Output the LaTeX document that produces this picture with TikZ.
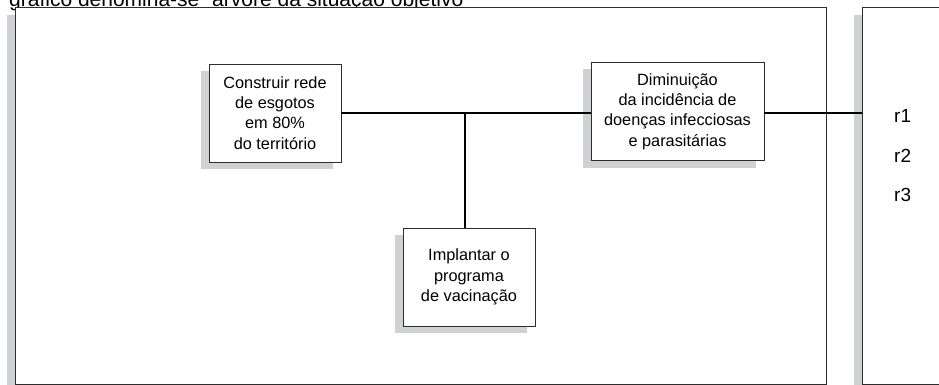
\documentclass[tikz,border=0pt]{standalone}
\usepackage{fontspec}
\setmainfont{Liberation Sans}
\usetikzlibrary{positioning,shadows,calc}
\definecolor{sombra}{RGB}{208,209,211}
\definecolor{borda}{RGB}{45,45,45}

\begin{document}
\begin{tikzpicture}[x=1pt,y=-1pt,
    caixa/.style={draw=borda, line width=0.8pt, fill=white, align=center,
        minimum width=132pt, minimum height=98pt, inner sep=2pt,
        font=\fontsize{16.3}{20.3}\selectfont,
        drop shadow={shadow xshift=-8pt, shadow yshift=-7pt, fill=sombra, opacity=1}},
    quadro/.style={draw=borda, line width=0.8pt, fill=white, anchor=north west,
        inner sep=0pt,
        drop shadow={shadow xshift=-8pt, shadow yshift=-8pt, fill=sombra, opacity=1}},
    ligacao/.style={line width=1.6pt, black}]
\useasboundingbox (0,0) rectangle (939,385);
\clip (0,0) rectangle (939,385);

\node[anchor=base west, inner sep=0pt, font=\fontsize{21}{24}\selectfont] (titulo) at (9,6.5)
    {gráfico denomina-se “árvore da situação objetivo”};

\node[quadro, minimum width=811pt, minimum height=377pt] (arvore) at (15,7) {};
\node[quadro, minimum width=120pt, minimum height=377pt] (painel) at (862,7) {};

\node[caixa] (rede) at (275,113) {Construir rede\\de esgotos\\em 80\%\\do território};
\node[caixa, minimum width=173pt] (dim) at (677.5,111.5) {Diminuição\\da incidência de\\doenças infecciosas\\e parasitárias};
\node[caixa] (vac) at (469,277) {Implantar o\\programa\\de vacinação};

\coordinate (junta) at (465,113);
\draw[ligacao] (rede.east |- junta) -- (junta) -- (dim.west |- junta);
\draw[ligacao] (junta) -- (junta |- vac.north);
\draw[ligacao] (dim.east |- junta) -- (painel.west |- junta);

\foreach \r [count=\i from 0] in {r1,r2,r3}
    \node[anchor=base west, inner sep=0pt, font=\fontsize{19}{22}\selectfont] (res-\r) at (894,{122.5+39.5*\i}) {\r};

\end{tikzpicture}
\end{document}
